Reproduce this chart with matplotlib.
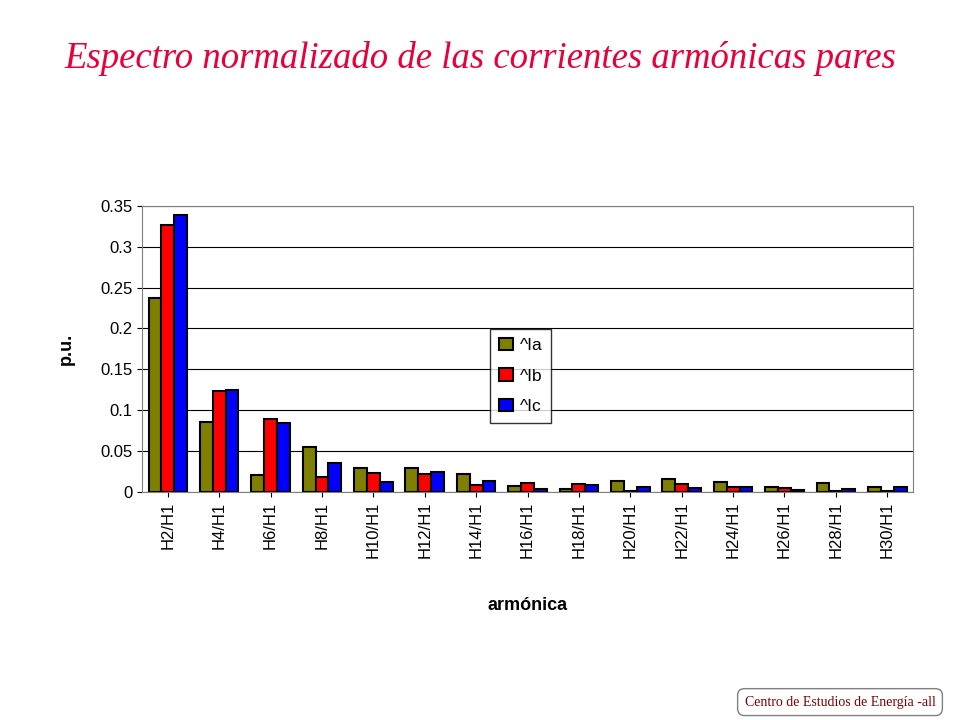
import matplotlib
matplotlib.use("Agg")
import matplotlib.pyplot as plt
import numpy as np

categories = [f"H{n}/H1" for n in range(2, 31, 2)]
Ia = [0.237, 0.085, 0.021, 0.055, 0.029, 0.029, 0.022, 0.007, 0.003, 0.013, 0.016, 0.012, 0.006, 0.011, 0.006]
Ib = [0.327, 0.123, 0.089, 0.018, 0.023, 0.022, 0.008, 0.011, 0.010, 0.001, 0.009, 0.006, 0.004, 0.001, 0.001]
Ic = [0.339, 0.125, 0.084, 0.035, 0.012, 0.024, 0.013, 0.003, 0.008, 0.006, 0.004, 0.006, 0.002, 0.003, 0.006]

fig = plt.figure(figsize=(9.6, 7.2), dpi=100)
fig.text(0.5, 0.905, "Espectro normalizado de las corrientes armónicas pares", ha="center",
         color="#e8003a", fontsize=26.5, style="italic", family="Liberation Serif")
ax = fig.add_axes([0.148, 0.317, 0.803, 0.397])
x = np.arange(len(categories))
w = 0.25
for i, (vals, col, lab) in enumerate([(Ia, "#808000", "^Ia"), (Ib, "#ff0000", "^Ib"), (Ic, "#0000ff", "^Ic")]):
    ax.bar(x + (i - 1) * w, vals, w, color=col, edgecolor="black", linewidth=1.5, label=lab)
ax.set_xlim(-0.5, len(categories) - 0.5)
ax.set_ylim(0, 0.35)
ax.set_yticks(np.arange(0, 0.351, 0.05))
ax.set_yticklabels(["0", "0.05", "0.1", "0.15", "0.2", "0.25", "0.3", "0.35"], fontsize=12, family="Liberation Sans")
ax.set_xticks(x)
ax.set_xticklabels(categories, rotation=90, fontsize=12, family="Liberation Sans")
ax.grid(axis="y", color="black", linewidth=0.8)
ax.set_axisbelow(True)
for s in ax.spines.values():
    s.set_color("#808080")
ax.set_ylabel("p.u.", fontsize=13, fontweight="bold", family="Liberation Sans", labelpad=18)
ax.set_xlabel("armónica", fontsize=13, fontweight="bold", family="Liberation Sans", labelpad=28)
leg = ax.legend(loc="upper left", bbox_to_anchor=(0.44, 0.6), fancybox=False, edgecolor="black",
                handlelength=0.8, labelspacing=0.9, handletextpad=0.4, borderpad=0.5,
                prop={"family": "Liberation Sans", "size": 12.5})
fig.text(0.875, 0.02, "Centro de Estudios de Energía -all", ha="center", fontsize=10, family="Liberation Serif",
         color="#800000", bbox=dict(boxstyle="round,pad=0.5", fc="white", ec="#808080"))
fig.savefig("out.png", dpi=100)
